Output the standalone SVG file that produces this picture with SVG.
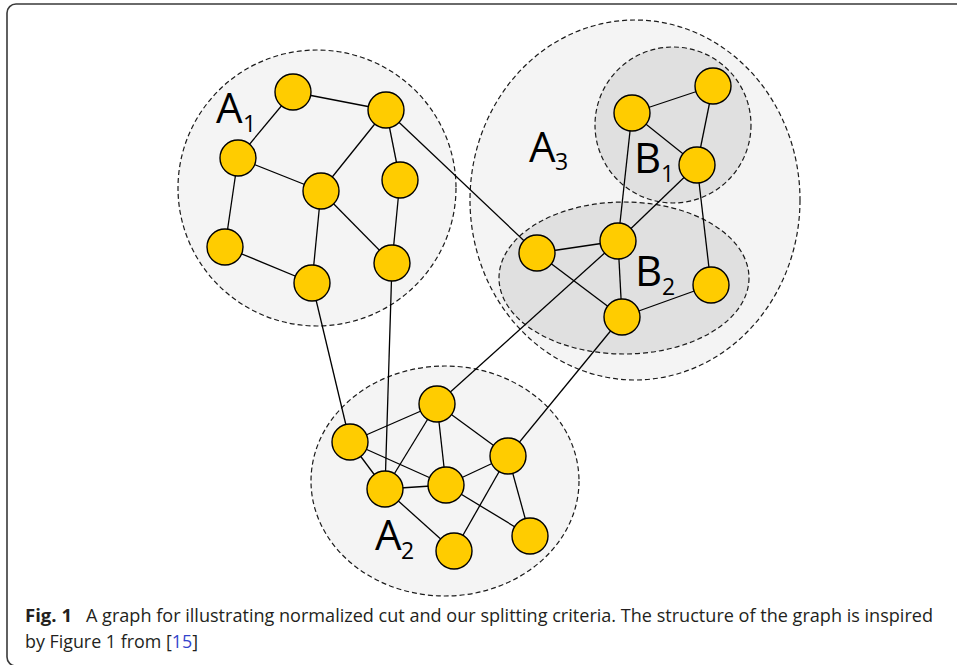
<svg xmlns="http://www.w3.org/2000/svg" width="957" height="665" viewBox="0 0 957 665">
<defs>
<style>
.grp{stroke:#1a1a1a;stroke-width:1.2;stroke-dasharray:5 3}
.ga{fill:#f4f4f4}
.gb{fill:#e0e0e0}
.e{stroke:#000;stroke-width:1.3;fill:none}
.n{fill:#ffcc00;stroke:#000;stroke-width:1.4}
.lbl{font-family:"Open Sans","DejaVu Sans",sans-serif;fill:#000}
.big{font-size:42px}
.sub{font-size:23px}
.cap{font-family:"Open Sans","Liberation Sans",sans-serif;font-size:17.5px;fill:#231f20}
</style>
</defs>
<rect width="957" height="665" fill="#fff"/>
<rect x="7" y="4" width="1000" height="662" rx="9" ry="9" fill="none" stroke="#3a3a3a" stroke-width="1.6"/>

<g id="groups">
<ellipse id="A1" class="grp ga" cx="317" cy="188" rx="139" ry="138"/>
<ellipse id="A3" class="grp ga" cx="635" cy="200" rx="165" ry="180"/>
<ellipse id="B1" class="grp gb" cx="673" cy="125" rx="78" ry="78"/>
<ellipse id="B2" class="grp gb" cx="624" cy="278" rx="125" ry="76"/>
<ellipse id="A2" class="grp ga" cx="445" cy="481" rx="134" ry="115"/>
</g>

<g id="edges" class="e">
<line x1="293" y1="92" x2="386" y2="110"/>
<line x1="293" y1="92" x2="238" y2="158"/>
<line x1="386" y1="110" x2="321" y2="191"/>
<line x1="386" y1="110" x2="400" y2="180"/>
<line x1="386" y1="110" x2="537" y2="253"/>
<line x1="238" y1="158" x2="321" y2="191"/>
<line x1="238" y1="158" x2="225" y2="247"/>
<line x1="321" y1="191" x2="312" y2="283"/>
<line x1="321" y1="191" x2="392" y2="263"/>
<line x1="400" y1="180" x2="392" y2="263"/>
<line x1="225" y1="247" x2="312" y2="283"/>
<line x1="312" y1="283" x2="350" y2="442"/>
<line x1="392" y1="263" x2="385" y2="489"/>
<line x1="632" y1="113" x2="713" y2="86"/>
<line x1="632" y1="113" x2="697" y2="165"/>
<line x1="713" y1="86" x2="697" y2="165"/>
<line x1="632" y1="113" x2="618" y2="241"/>
<line x1="697" y1="165" x2="618" y2="241"/>
<line x1="697" y1="165" x2="711" y2="285"/>
<line x1="537" y1="253" x2="618" y2="241"/>
<line x1="537" y1="253" x2="622" y2="317"/>
<line x1="618" y1="241" x2="622" y2="317"/>
<line x1="622" y1="317" x2="711" y2="285"/>
<line x1="618" y1="241" x2="437" y2="404"/>
<line x1="622" y1="317" x2="508" y2="456"/>
<line x1="350" y1="442" x2="437" y2="404"/>
<line x1="350" y1="442" x2="385" y2="489"/>
<line x1="350" y1="442" x2="446" y2="485"/>
<line x1="437" y1="404" x2="385" y2="489"/>
<line x1="437" y1="404" x2="446" y2="485"/>
<line x1="437" y1="404" x2="508" y2="456"/>
<line x1="385" y1="489" x2="446" y2="485"/>
<line x1="385" y1="489" x2="454" y2="551"/>
<line x1="446" y1="485" x2="508" y2="456"/>
<line x1="446" y1="485" x2="530" y2="536"/>
<line x1="508" y1="456" x2="454" y2="551"/>
<line x1="508" y1="456" x2="530" y2="536"/>
</g>

<g id="nodeA1_1"><circle class="n" cx="293" cy="92" r="18"/></g>
<g id="nodeA1_2"><circle class="n" cx="386" cy="110" r="18"/></g>
<g id="nodeA1_3"><circle class="n" cx="238" cy="158" r="18"/></g>
<g id="nodeA1_4"><circle class="n" cx="321" cy="191" r="18"/></g>
<g id="nodeA1_5"><circle class="n" cx="400" cy="180" r="18"/></g>
<g id="nodeA1_6"><circle class="n" cx="225" cy="247" r="18"/></g>
<g id="nodeA1_7"><circle class="n" cx="312" cy="283" r="18"/></g>
<g id="nodeA1_8"><circle class="n" cx="392" cy="263" r="18"/></g>
<g id="nodeB1_1"><circle class="n" cx="632" cy="113" r="18"/></g>
<g id="nodeB1_2"><circle class="n" cx="713" cy="86" r="18"/></g>
<g id="nodeB1_3"><circle class="n" cx="697" cy="165" r="18"/></g>
<g id="nodeB2_1"><circle class="n" cx="537" cy="253" r="18"/></g>
<g id="nodeB2_2"><circle class="n" cx="618" cy="241" r="18"/></g>
<g id="nodeB2_3"><circle class="n" cx="622" cy="317" r="18"/></g>
<g id="nodeB2_4"><circle class="n" cx="711" cy="285" r="18"/></g>
<g id="nodeA2_1"><circle class="n" cx="437" cy="404" r="18"/></g>
<g id="nodeA2_2"><circle class="n" cx="350" cy="442" r="18"/></g>
<g id="nodeA2_3"><circle class="n" cx="385" cy="489" r="18"/></g>
<g id="nodeA2_4"><circle class="n" cx="446" cy="485" r="18"/></g>
<g id="nodeA2_5"><circle class="n" cx="508" cy="456" r="18"/></g>
<g id="nodeA2_6"><circle class="n" cx="454" cy="551" r="18"/></g>
<g id="nodeA2_7"><circle class="n" cx="530" cy="536" r="18"/></g>

<g id="labels" class="lbl">
<text class="big" x="216" y="123">A</text><text class="sub" x="243" y="132">1</text>
<text class="big" x="529" y="162">A</text><text class="sub" x="555" y="170">3</text>
<text class="big" x="634" y="173">B</text><text class="sub" x="661" y="182">1</text>
<text class="big" x="635" y="286">B</text><text class="sub" x="662" y="295">2</text>
<text class="big" x="375" y="550">A</text><text class="sub" x="401" y="559">2</text>
</g>

<g id="caption" class="cap">
<text x="25" y="622" font-weight="bold" textLength="47" lengthAdjust="spacingAndGlyphs">Fig. 1</text>
<text x="86" y="622" textLength="847" lengthAdjust="spacingAndGlyphs">A graph for illustrating normalized cut and our splitting criteria. The structure of the graph is inspired</text>
<text x="25" y="648" textLength="173" lengthAdjust="spacingAndGlyphs">by Figure 1 from [<tspan fill="#3344cc">15</tspan>]</text>
</g>
</svg>
